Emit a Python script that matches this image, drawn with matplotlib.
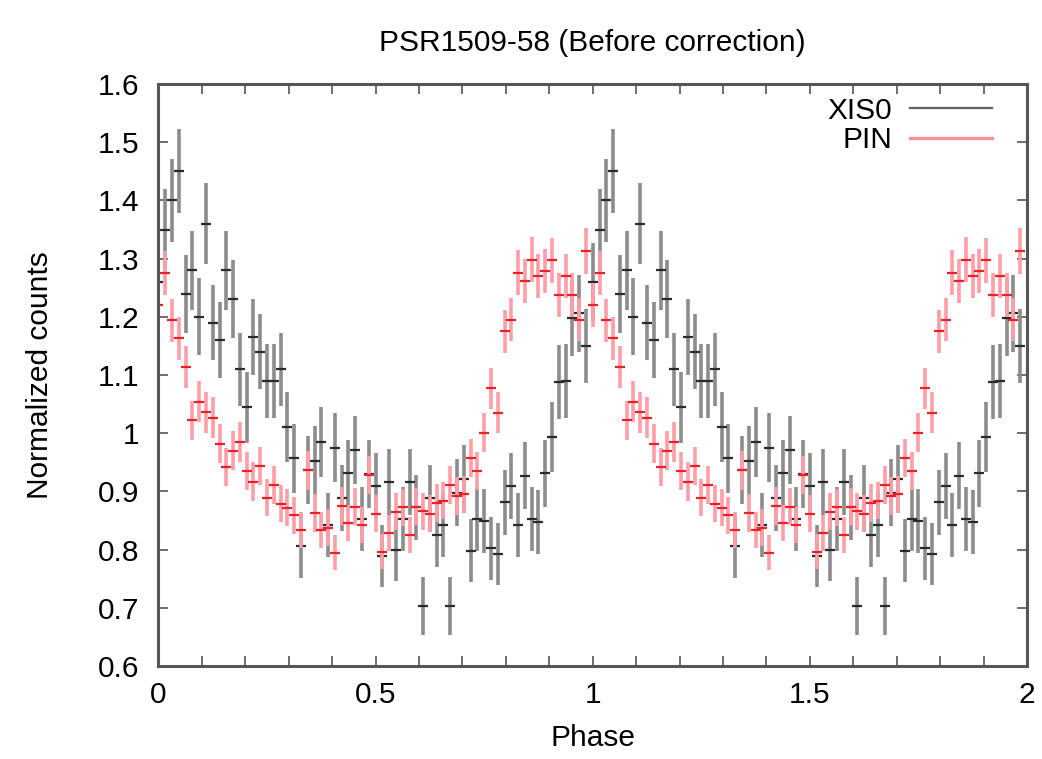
import matplotlib
matplotlib.use("Agg")
import matplotlib.pyplot as plt
import numpy as np
from matplotlib.ticker import MultipleLocator

plt.rcParams["font.family"] = ["Liberation Sans", "DejaVu Sans"]

# folded light curve, 64 phase bins, shown over two cycles
n_bins = 64
n_cycles = 2

xis0_counts = [1.26, 1.35, 1.40, 1.45, 1.24, 1.28, 1.20, 1.36, 1.19, 1.16, 1.28, 1.23, 1.11, 1.045, 1.165, 1.14,
               1.09, 1.09, 1.11, 1.01, 0.957, 0.806, 0.937, 0.953, 0.985, 0.842, 0.975, 0.889, 0.931, 0.971, 0.852, 0.93,
               0.909, 0.789, 0.916, 0.80, 0.852, 0.916, 0.873, 0.703, 0.888, 0.825, 0.842, 0.703, 0.898, 0.921, 0.798, 0.852,
               0.849, 0.802, 0.792, 0.881, 0.909, 0.842, 0.927, 0.852, 0.848, 0.931, 0.994, 1.088, 1.09, 1.198, 1.206, 1.15]
xis0_err = [0.067, 0.070, 0.071, 0.072, 0.067, 0.068, 0.066, 0.070, 0.065, 0.065, 0.068, 0.067, 0.063, 0.061, 0.065, 0.064,
            0.063, 0.063, 0.063, 0.060, 0.059, 0.054, 0.058, 0.059, 0.060, 0.055, 0.059, 0.057, 0.058, 0.059, 0.055, 0.058,
            0.057, 0.053, 0.057, 0.054, 0.055, 0.057, 0.056, 0.050, 0.057, 0.054, 0.055, 0.050, 0.057, 0.058, 0.054, 0.055,
            0.055, 0.054, 0.053, 0.056, 0.057, 0.055, 0.058, 0.055, 0.055, 0.058, 0.060, 0.063, 0.063, 0.066, 0.066, 0.064]

pin_counts = [1.22, 1.275, 1.194, 1.163, 1.114, 1.022, 1.054, 1.036, 1.027, 0.982, 0.942, 0.970, 0.985, 0.935, 0.917, 0.944,
              0.889, 0.911, 0.879, 0.872, 0.859, 0.834, 0.936, 0.863, 0.833, 0.838, 0.795, 0.875, 0.845, 0.874, 0.842, 0.928,
              0.862, 0.796, 0.828, 0.865, 0.873, 0.825, 0.874, 0.866, 0.862, 0.880, 0.884, 0.911, 0.892, 0.895, 0.957, 0.935,
              1.001, 1.077, 1.035, 1.175, 1.195, 1.276, 1.262, 1.298, 1.270, 1.279, 1.297, 1.238, 1.270, 1.237, 1.195, 1.313]
pin_err = [0.038, 0.038, 0.037, 0.037, 0.036, 0.034, 0.035, 0.035, 0.035, 0.034, 0.033, 0.033, 0.034, 0.033, 0.033, 0.033,
           0.032, 0.032, 0.032, 0.032, 0.032, 0.031, 0.033, 0.032, 0.031, 0.031, 0.030, 0.032, 0.031, 0.032, 0.031, 0.033,
           0.032, 0.030, 0.031, 0.032, 0.032, 0.031, 0.032, 0.032, 0.032, 0.032, 0.032, 0.032, 0.032, 0.032, 0.033, 0.033,
           0.034, 0.035, 0.035, 0.037, 0.037, 0.038, 0.038, 0.039, 0.038, 0.038, 0.039, 0.038, 0.038, 0.038, 0.037, 0.039]

phase = np.arange(n_bins * n_cycles) / n_bins


def draw_curve(ax, counts, err, bar_color, mark_color, key_color, key_width, label):
    y = np.tile(counts, n_cycles)
    yerr = np.tile(err, n_cycles)
    ax.errorbar(phase, y, yerr=yerr, fmt="none", ecolor=bar_color, elinewidth=2.6, capsize=0)
    ax.plot(phase, y, ls="none", marker="_", ms=7, mew=1.6, color=mark_color)
    ax.plot([], [], color=key_color, lw=key_width, label=label)


fig = plt.figure(figsize=(10.42, 7.59), dpi=100)
ax = fig.add_axes([0.1521, 0.1225, 0.8335, 0.7668])

draw_curve(ax, xis0_counts, xis0_err, "#8c8c8c", "#2a2a2a", "#606060", 1.6, "XIS0")
draw_curve(ax, pin_counts, pin_err, "#ff9ea6", "#e8202a", "#ff8f98", 2.4, "PIN")

ax.set_xlim(0, 2)
ax.set_ylim(0.6, 1.6)
ax.xaxis.set_major_locator(MultipleLocator(0.5))
ax.xaxis.set_minor_locator(MultipleLocator(0.1))
ax.yaxis.set_major_locator(MultipleLocator(0.1))
ax.xaxis.set_major_formatter(plt.FuncFormatter(lambda v, p: f"{v:g}"))
ax.yaxis.set_major_formatter(plt.FuncFormatter(lambda v, p: "1" if abs(v - 1) < 1e-9 else f"{v:.1f}"))

for s in ax.spines.values():
    s.set_color("#555555")
    s.set_linewidth(2.2)
ax.tick_params(which="both", direction="in", top=True, right=True, color="#555555", width=1.2, length=7)
ax.tick_params(axis="x", which="major", labelsize=21.5, pad=11)
ax.tick_params(axis="y", which="major", labelsize=21.5, pad=14)

ax.set_title("PSR1509-58 (Before correction)", fontsize=21.5, pad=24)
ax.set_xlabel("Phase", fontsize=21.5)
ax.set_ylabel("Normalized counts", fontsize=21.5)
ax.xaxis.set_label_coords(0.5, -0.1)
ax.yaxis.set_label_coords(-0.12, 0.5)

ax.legend(loc="upper right", bbox_to_anchor=(0.96, 0.978), frameon=False, markerfirst=False,
          fontsize=21.5, handlelength=2.75, handletextpad=0.6, labelspacing=0.05,
          borderpad=0, borderaxespad=0)

fig.savefig("out.png", dpi=100)
